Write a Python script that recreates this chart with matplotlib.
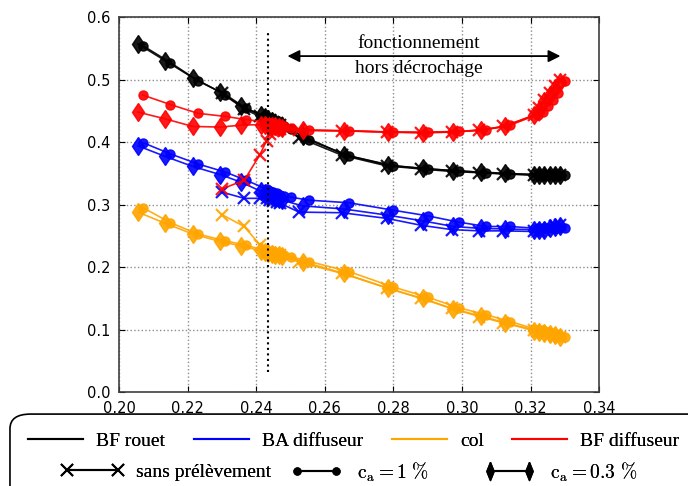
import matplotlib
matplotlib.use('Agg')
import matplotlib.pyplot as plt
from matplotlib.lines import Line2D
from matplotlib.patches import FancyBboxPatch

# debit (x) for the three configurations
x_sans = [0.2300, 0.2365, 0.2410, 0.2430, 0.2440, 0.2450, 0.2460, 0.2470, 0.2525, 0.2650,
          0.2780, 0.2880, 0.2970, 0.3050, 0.3120, 0.3210, 0.3225, 0.3240, 0.3255, 0.3270, 0.3285]
x_ca1 = [0.2070, 0.2150, 0.2230, 0.2310, 0.2370, 0.2430, 0.2440, 0.2450, 0.2460, 0.2470,
         0.2480, 0.2500, 0.2555, 0.2670, 0.2800, 0.2900, 0.2990, 0.3070, 0.3140, 0.3220,
         0.3235, 0.3250, 0.3265, 0.3280, 0.3300]
x_ca03 = [0.2055, 0.2135, 0.2215, 0.2295, 0.2355, 0.2415, 0.2425, 0.2435, 0.2445, 0.2455,
          0.2465, 0.2475, 0.2535, 0.2655, 0.2785, 0.2885, 0.2975, 0.3055, 0.3125, 0.3210,
          0.3225, 0.3240, 0.3255, 0.3270, 0.3285]

# BF rouet
rouet_sans = [0.478, 0.453, 0.441, 0.437, 0.435, 0.432, 0.430, 0.427, 0.407, 0.379, 0.362,
              0.357, 0.353, 0.351, 0.349, 0.347, 0.347, 0.347, 0.347, 0.347, 0.347]
rouet_ca1 = [0.554, 0.527, 0.498, 0.476, 0.454, 0.439, 0.436, 0.434, 0.431, 0.428, 0.425,
             0.421, 0.403, 0.378, 0.362, 0.357, 0.354, 0.351, 0.349, 0.348, 0.348, 0.348,
             0.348, 0.348, 0.348]
rouet_ca03 = [0.557, 0.530, 0.503, 0.480, 0.458, 0.443, 0.440, 0.437, 0.434, 0.431, 0.428,
              0.425, 0.410, 0.380, 0.363, 0.358, 0.354, 0.352, 0.350, 0.348, 0.348, 0.348,
              0.348, 0.348, 0.348]

# BA diffuseur
ba_sans = [0.320, 0.310, 0.310, 0.310, 0.308, 0.306, 0.304, 0.302, 0.288, 0.287, 0.278,
           0.267, 0.260, 0.258, 0.258, 0.257, 0.258, 0.260, 0.262, 0.265, 0.268]
ba_ca1 = [0.399, 0.381, 0.365, 0.352, 0.339, 0.325, 0.322, 0.320, 0.318, 0.316, 0.314,
          0.312, 0.307, 0.303, 0.291, 0.282, 0.272, 0.265, 0.265, 0.262, 0.262, 0.262,
          0.263, 0.263, 0.262]
ba_ca03 = [0.394, 0.377, 0.361, 0.348, 0.336, 0.321, 0.318, 0.316, 0.313, 0.311, 0.309,
           0.307, 0.298, 0.293, 0.283, 0.274, 0.265, 0.262, 0.261, 0.260, 0.259, 0.260,
           0.262, 0.264, 0.266]

# col
col_sans = [0.284, 0.265, 0.236, 0.225, 0.222, 0.221, 0.220, 0.219, 0.208, 0.190, 0.167,
            0.150, 0.134, 0.121, 0.111, 0.100, 0.098, 0.095, 0.092, 0.090, 0.088]
col_ca1 = [0.295, 0.271, 0.253, 0.242, 0.235, 0.226, 0.224, 0.222, 0.221, 0.220, 0.219,
           0.217, 0.209, 0.193, 0.168, 0.152, 0.135, 0.124, 0.113, 0.100, 0.099, 0.097,
           0.095, 0.092, 0.089]
col_ca03 = [0.288, 0.270, 0.253, 0.241, 0.234, 0.226, 0.224, 0.222, 0.221, 0.220, 0.219,
            0.218, 0.209, 0.190, 0.166, 0.150, 0.133, 0.122, 0.111, 0.098, 0.097, 0.095,
            0.093, 0.091, 0.089]

# BF diffuseur
bfd_sans = [0.325, 0.339, 0.379, 0.402, 0.413, 0.418, 0.420, 0.421, 0.419, 0.418, 0.416,
            0.415, 0.416, 0.419, 0.425, 0.443, 0.455, 0.468, 0.478, 0.490, 0.500]
bfd_ca1 = [0.475, 0.460, 0.446, 0.441, 0.436, 0.432, 0.430, 0.429, 0.427, 0.426, 0.425,
           0.422, 0.419, 0.418, 0.416, 0.416, 0.417, 0.420, 0.427, 0.444, 0.448, 0.458,
           0.467, 0.478, 0.497]
bfd_ca03 = [0.448, 0.437, 0.425, 0.424, 0.427, 0.428, 0.428, 0.427, 0.426, 0.425, 0.424,
            0.423, 0.419, 0.418, 0.416, 0.415, 0.416, 0.419, 0.425, 0.443, 0.452, 0.465,
            0.475, 0.487, 0.496]

positions = ['BF rouet', 'BA diffuseur', 'col', 'BF diffuseur']
colors = ['black', 'blue', 'orange', 'red']
series = {
    'BF rouet': (rouet_sans, rouet_ca1, rouet_ca03),
    'BA diffuseur': (ba_sans, ba_ca1, ba_ca03),
    'col': (col_sans, col_ca1, col_ca03),
    'BF diffuseur': (bfd_sans, bfd_ca1, bfd_ca03),
}
config_labels = ['sans prélèvement', r'$\mathrm{c_a = 1\ \%}$', r'$\mathrm{c_a = 0.3\ \%}$']

plt.rcParams['mathtext.fontset'] = 'cm'
serif = {'family': 'Liberation Serif', 'size': 14}

fig = plt.figure(figsize=(6.88, 4.86), dpi=100)
ax = fig.add_axes([0.173, 0.193, 0.698, 0.772])

for name, c in zip(positions, colors):
    s_sans, s_ca1, s_ca03 = series[name]
    ax.plot(x_sans, s_sans, color=c, lw=1.2, marker='x', ms=8, mew=1.6, alpha=0.9)
    ax.plot(x_ca1, s_ca1, color=c, lw=1.2, marker='o', ms=6.5, alpha=0.9)
    ax.plot(x_ca03, s_ca03, color=c, lw=1.2, marker='d', ms=9.5, alpha=0.9)

# limite de decrochage
ax.plot([0.2433, 0.2433], [0.032, 0.577], color='black', ls=':', lw=1.5)
ax.annotate('', xy=(0.3295, 0.5375), xytext=(0.2483, 0.5375),
            arrowprops=dict(arrowstyle='<|-|>', color='black', lw=1.3, mutation_scale=18))
ax.text(0.2875, 0.557, 'fonctionnement', ha='center', va='center', fontdict=serif)
ax.text(0.2875, 0.518, 'hors décrochage', ha='center', va='center', fontdict=serif)

ax.set_xlim(0.20, 0.34)
ax.set_ylim(0.0, 0.6)
ax.set_xticks([0.20, 0.22, 0.24, 0.26, 0.28, 0.30, 0.32, 0.34])
ax.set_yticks([0.0, 0.1, 0.2, 0.3, 0.4, 0.5, 0.6])
ax.tick_params(direction='in', top=True, right=True, labelsize=10.5, length=4)
ax.tick_params(axis='x', pad=6)
ax.tick_params(axis='y', pad=6)
ax.grid(True, ls=':', color='0.55', lw=1)
for sp in ax.spines.values():
    sp.set_color('0.25')
    sp.set_linewidth(1.2)

# cadre de legende
box = FancyBboxPatch((0.0145, -0.15), 1.1, 0.298, boxstyle='round,pad=0,rounding_size=0.03',
                     transform=fig.transFigure, fc='white', ec='black', lw=1.2)
fig.patches.append(box)

h1 = [Line2D([], [], color=c, lw=1.5) for c in colors]
leg1 = fig.legend(h1, positions, loc='center left', bbox_to_anchor=(0.0407, 0.0926),
                  ncol=4, frameon=False, prop=serif, handlelength=2.85, handletextpad=0.67,
                  columnspacing=1.45, borderpad=0, borderaxespad=0)
fig.add_artist(leg1)

thin_diamond = [(0, 1), (0.4, 0), (0, -1), (-0.4, 0), (0, 1)]
h2 = [Line2D([], [], color='black', lw=1.5, marker='x', ms=9, mew=1.4),
      Line2D([], [], color='black', lw=1.5, marker='o', ms=5),
      Line2D([], [], color='black', lw=1.5, marker=thin_diamond, ms=13)]
anchors = [0.0887, 0.423, 0.7035]
lengths = [3.25, 2.6, 2.6]
pads = [0.6, 0.8, 0.8]
for h, lab, xa, hl, tp in zip(h2, config_labels, anchors, lengths, pads):
    leg = fig.legend([h], [lab], loc='center left', bbox_to_anchor=(xa, 0.029),
                     frameon=False, prop=serif, handlelength=hl, handletextpad=tp,
                     borderpad=0, borderaxespad=0, numpoints=2)
    fig.add_artist(leg)

fig.savefig('out.png', dpi=100)
